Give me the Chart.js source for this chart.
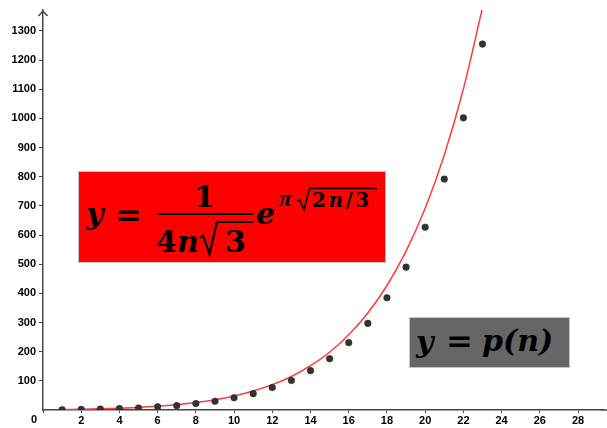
<!DOCTYPE html>
<html>
<head>
<meta charset="utf-8">
<script src="https://cdn.jsdelivr.net/npm/chart.js@4.4.1/dist/chart.umd.min.js"></script>
<style>
  html, body { margin: 0; padding: 0; background: #fff; }
  #wrap { position: relative; width: 607px; height: 428px; overflow: hidden; }
  #wrap canvas { position: absolute; left: 0; top: 0; }
  .box { position: absolute; box-sizing: border-box; border: 1px solid #c6c6c6; }
  .red { left: 78px; top: 171px; width: 308px; height: 92px; background: #ff0000; }
  .grey { left: 409px; top: 317px; width: 161px; height: 51px; background: #666666; }
  .m { position: absolute; font-family: "DejaVu Serif", serif; font-weight: bold; color: #000; line-height: 1; white-space: nowrap; }
  .it { font-style: italic; }
  .bar { position: absolute; background: #000; }
  #radicales { position: absolute; left: 0; top: 0; }
</style>
</head>
<body>
<div id="wrap">
  <canvas id="chartParticiones" width="607" height="428"></canvas>

  <!-- fórmula de la curva -->
  <div class="box red"></div>
  <span class="m it" style="left:86px; top:199px; font-size:30px;">y</span>
  <span class="m" style="left:115px; top:199px; font-size:32px;">=</span>
  <span class="m" style="left:194px; top:182px; font-size:30px;">1</span>
  <div class="bar" style="left:157px; top:213px; width:96px; height:2px;"></div>
  <span class="m" style="left:156px; top:227px; font-size:30px;">4<span class="it">n</span></span>
  <span class="m" style="left:225px; top:227px; font-size:30px;">3</span>
  <span class="m it" style="left:256px; top:199px; font-size:30px;">e</span>
  <span class="m it" style="left:279px; top:187px; font-size:23px; font-family:'Liberation Serif', serif;">π</span>
  <span class="m" style="left:312px; top:190px; font-size:20px; letter-spacing:2.5px;">2<span class="it">n</span>/3</span>

  <!-- fórmula de los puntos -->
  <div class="box grey"></div>
  <span class="m it" style="left:416px; top:327px; font-size:30px;">y</span>
  <span class="m" style="left:446px; top:325px; font-size:32px;">=</span>
  <span class="m it" style="left:482px; top:326px; font-size:30px;">p(n)</span>

  <!-- signos radicales -->
  <svg id="radicales" width="607" height="428">
    <polyline points="200,238 203,235.5 209.5,254 217,222 253,222" fill="none" stroke="#000" stroke-width="2.2" stroke-linejoin="miter"/>
    <polyline points="297,201 299.5,199.5 304,209.5 309.5,188.5 377,188.5" fill="none" stroke="#000" stroke-width="1.6"/>
  </svg>
</div>

<script>
// n y número de particiones p(n)
const valoresN = [1, 2, 3, 4, 5, 6, 7, 8, 9, 10, 11, 12, 13, 14, 15, 16, 17, 18, 19, 20, 21, 22, 23];
const particiones = [1, 2, 3, 5, 7, 11, 15, 22, 30, 42, 56, 77, 101, 135, 176, 231, 297, 385, 490, 627, 792, 1002, 1255];

// curva roja (aproximación de Hardy-Ramanujan) en los mismos n
const curvaN = [1, 2, 3, 4, 5, 6, 7, 8, 9, 10, 11, 12, 13, 14, 15, 16, 17, 18, 19, 20, 21, 22, 23];
const curvaY = [1.9, 2.7, 4.1, 6.1, 9.0, 12.9, 18.3, 25.5, 35.2, 48.1, 65.0, 86.9, 115, 152, 198, 258, 333, 427, 545, 692, 875, 1101, 1380];

const ticksX = [0, 2, 4, 6, 8, 10, 12, 14, 16, 18, 20, 22, 24, 26, 28];
const ticksY = [100, 200, 300, 400, 500, 600, 700, 800, 900, 1000, 1100, 1200, 1300];

const colorEje = "#444";
const fuenteTicks = { family: "'Liberation Sans', Arial, sans-serif", size: 11, weight: "bold" };

// flecha del eje y, prolongación del eje x y el "0" del origen
const ejesExtra = {
  id: "ejesExtra",
  afterDraw(chart) {
    const { ctx, chartArea } = chart;
    const x0 = chart.scales.x.getPixelForValue(0);
    const y0 = chart.scales.y.getPixelForValue(0);
    ctx.save();
    ctx.strokeStyle = colorEje;
    ctx.lineWidth = 1.5;
    ctx.beginPath();
    ctx.moveTo(x0 - 4.5, chartArea.top + 6);
    ctx.lineTo(x0, chartArea.top + 1);
    ctx.lineTo(x0 + 4.5, chartArea.top + 6);
    ctx.moveTo(chartArea.right - 1, y0);
    ctx.lineTo(chart.width, y0);
    ctx.stroke();
    ctx.fillStyle = "#000";
    ctx.font = "bold 11px 'Liberation Sans', Arial, sans-serif";
    ctx.textAlign = "center";
    ctx.textBaseline = "middle";
    ctx.fillText("0", x0 - 9, y0 + 10);
    ctx.restore();
  }
};

const ctx = document.getElementById("chartParticiones").getContext("2d");

new Chart(ctx, {
  type: "scatter",
  data: {
    datasets: [
      {
        label: "p(n)",
        data: valoresN.map((n, i) => ({ x: n, y: particiones[i] })),
        backgroundColor: "#333",
        borderColor: "#222",
        borderWidth: 0.5,
        pointRadius: 3.3,
        order: 0
      },
      {
        label: "aproximación",
        data: curvaN.map((n, i) => ({ x: n, y: curvaY[i] })),
        showLine: true,
        borderColor: "#ff3b3b",
        borderWidth: 1.5,
        pointRadius: 0,
        cubicInterpolationMode: "monotone",
        order: 1
      }
    ]
  },
  options: {
    responsive: false,
    animation: false,
    layout: { padding: { top: 10, right: 0, left: 0, bottom: 0 } },
    plugins: {
      legend: { display: false },
      tooltip: { enabled: false }
    },
    scales: {
      x: {
        type: "linear",
        min: 0,
        max: 29.28,
        afterFit: s => { s.height = 18; },
        afterBuildTicks: s => { s.ticks = ticksX.map(v => ({ value: v })); },
        grid: { display: true, drawOnChartArea: false, drawTicks: true, tickLength: 3, color: colorEje },
        border: { display: true, color: colorEje, width: 1.5 },
        ticks: {
          color: "#000",
          font: fuenteTicks,
          padding: 1,
          maxRotation: 0,
          autoSkip: false,
          callback: v => (v === 0 ? "" : String(v))
        }
      },
      y: {
        type: "linear",
        min: 0,
        max: 1372,
        afterFit: s => { s.width = 43; },
        afterBuildTicks: s => { s.ticks = ticksY.map(v => ({ value: v })); },
        grid: { display: true, drawOnChartArea: false, drawTicks: true, tickLength: 4, color: colorEje },
        border: { display: true, color: colorEje, width: 1.5 },
        ticks: {
          color: "#000",
          font: fuenteTicks,
          padding: 3,
          autoSkip: false,
          callback: v => String(v)
        }
      }
    }
  },
  plugins: [ejesExtra]
});
</script>
</body>
</html>
